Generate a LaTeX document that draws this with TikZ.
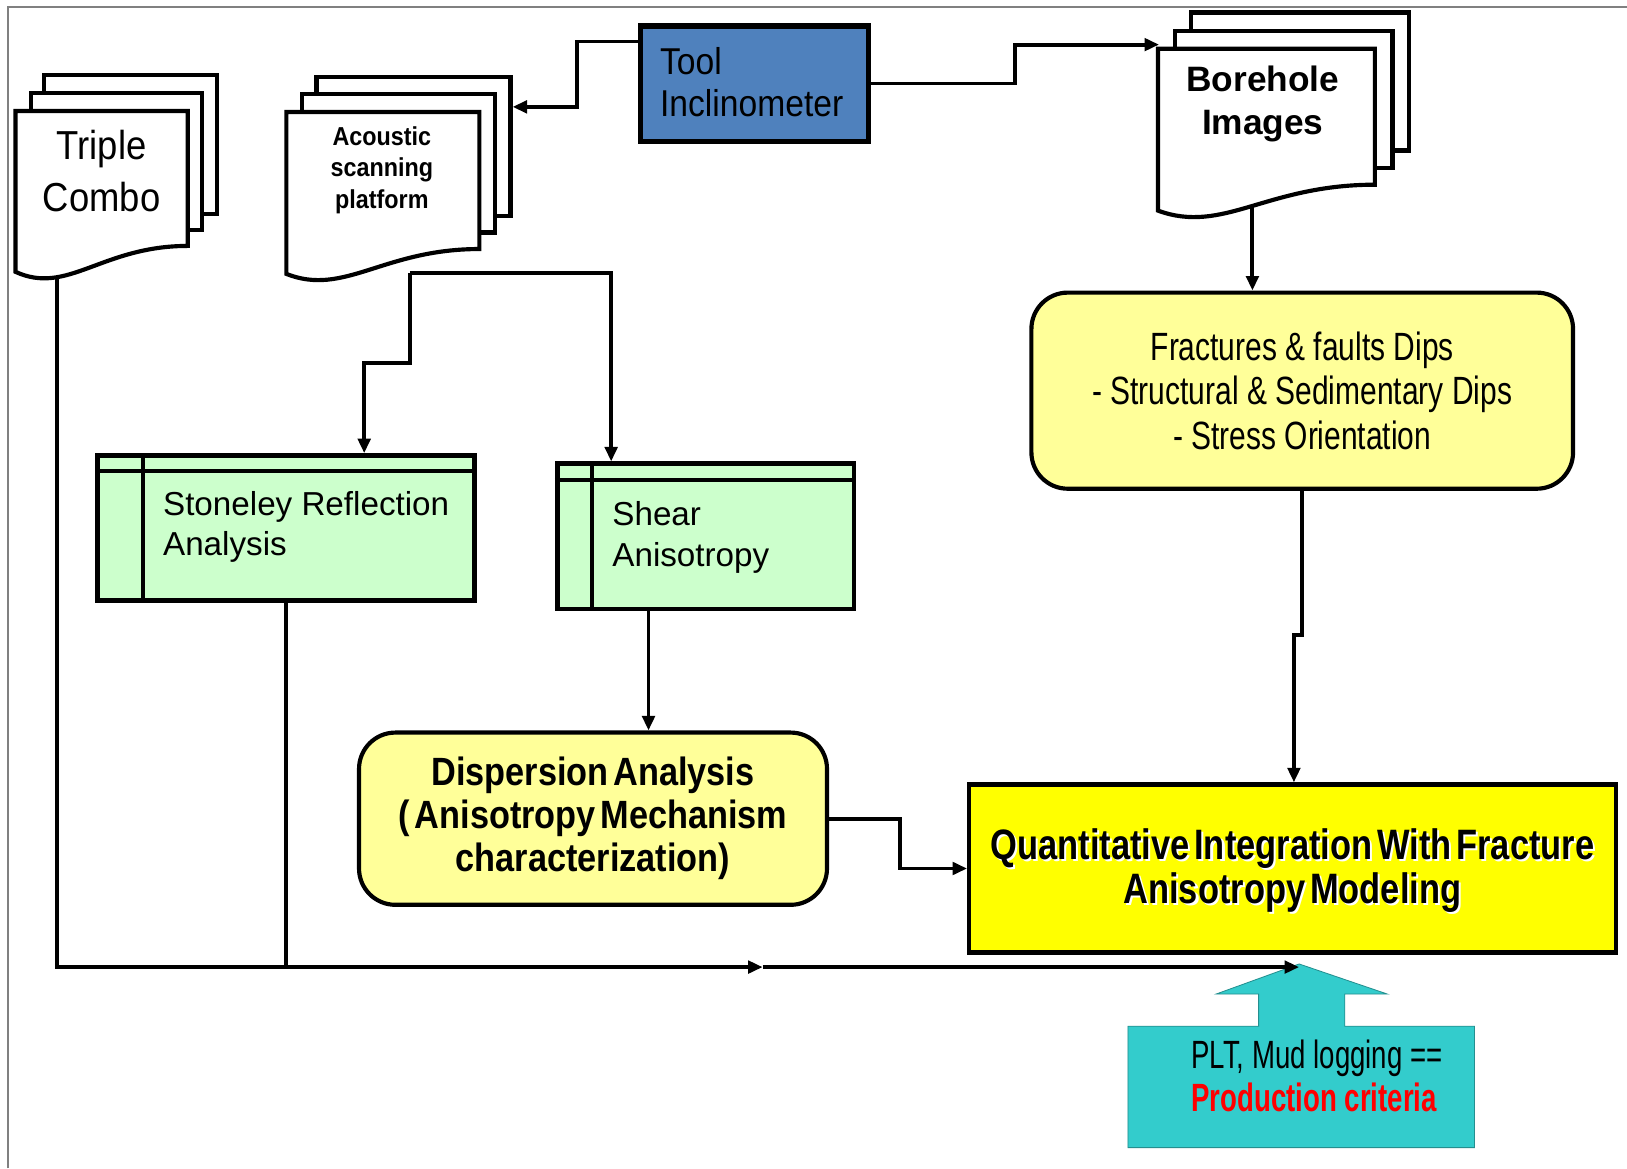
\documentclass[tikz,border=0pt]{standalone}
\usepackage{fontspec}
\setmainfont{Liberation Sans}
\newfontfamily\fontNinety[FakeStretch=0.9]{Liberation Sans}
\newfontfamily\fontEightSeven[FakeStretch=0.87,WordSpace=0.5]{Liberation Sans}
\newfontfamily\fontEighty[FakeStretch=0.81,WordSpace=0.5]{Liberation Sans}
\newfontfamily\fontSeventySix[FakeStretch=0.76]{Liberation Sans}
\newfontfamily\fontSeventy[FakeStretch=0.7]{Liberation Sans}
\usetikzlibrary{arrows.meta}
\definecolor{toolblue}{HTML}{4F81BD}
\definecolor{palegreen}{HTML}{CCFFCC}
\definecolor{paleyellow}{HTML}{FFFF99}
\definecolor{brightyellow}{HTML}{FFFF00}
\definecolor{tealfill}{HTML}{33CCCC}
\definecolor{framegray}{HTML}{808080}
\newcommand\fsz[2]{\fontsize{#1}{#2}\selectfont}
\tikzset{
  conn/.style={line width=3.8pt, -{Triangle[length=14pt,width=12pt]}},
  wire/.style={line width=3.8pt},
  docpage/.style={draw, line width=4pt, fill=white},
  txt/.style={inner sep=0pt, text=black},
  greenbox/.style={draw, line width=4.5pt, fill=palegreen, inner sep=0pt},
  roundbox/.style={draw, line width=4pt, fill=paleyellow, rounded corners=35pt, align=center, inner sep=0pt},
}
\begin{document}
\begin{tikzpicture}[x=1pt,y=-1pt,line join=miter]
\useasboundingbox (0,0) rectangle (1568,1126);
\fill[white] (0,0) rectangle (1568,1126);
\draw[framegray, line width=2pt] (8,1126) -- (8,7) -- (1568,7);

% cyan block arrow
\draw[fill=tealfill, draw=tealfill!70!black, line width=0.8pt]
  (1087,1106) -- (1087,989) -- (1213,989) -- (1213,958) -- (1172,958) -- (1252,929)
  -- (1337,958) -- (1296,958) -- (1296,989) -- (1421,989) -- (1421,1106) -- cycle;
\node[txt, anchor=west, align=left, font={\fontSeventy\fsz{38}{42}}] (plt) at (1148,1037)
  {PLT, Mud logging ==\\{\color{red}\bfseries Production criteria}};

% boxes
\node[draw, line width=5pt, fill=toolblue, minimum width=220pt, minimum height=111pt, inner sep=0pt] (tool) at (727,80.5) {};
\node[txt, anchor=west, align=left, font={\fontNinety\fsz{36}{41}}] (tooltext) at (636,79) {Tool\\Inclinometer};

\node[greenbox, minimum width=363pt, minimum height=140pt] (stoneley) at (275.5,509) {};
\draw[line width=4pt] ([yshift=-17pt]stoneley.north west) -- ([yshift=-17pt]stoneley.north east);
\draw[line width=4pt] ([xshift=46pt]stoneley.north west) -- ([xshift=46pt]stoneley.south west);
\node[txt, anchor=west, align=left, font={\fsz{32}{39}}] (stoneleytext) at (157,508) {Stoneley Reflection\\Analysis};

\node[greenbox, minimum width=286pt, minimum height=140pt] (shear) at (680,517) {};
\draw[line width=4pt] ([yshift=-18pt]shear.north west) -- ([yshift=-18pt]shear.north east);
\draw[line width=4pt] ([xshift=36pt]shear.north west) -- ([xshift=36pt]shear.south west);
\node[txt, anchor=west, align=left, font={\fsz{32}{40}}] (sheartext) at (590,518) {Shear\\Anisotropy};

\node[roundbox, minimum width=522pt, minimum height=189pt, font={\fontSeventySix\fsz{38}{43}}] (fract) at (1255,376.5)
  {Fractures \& faults Dips\\- Structural \& Sedimentary Dips\\- Stress Orientation};

\node[roundbox, minimum width=451pt, minimum height=166pt, font={\fontEightSeven\bfseries\fsz{38}{41.5}}] (disp) at (571.5,789)
  {Dispersion Analysis\\( Anisotropy Mechanism\\characterization)};

\node[draw, line width=4pt, fill=brightyellow, minimum width=623pt, minimum height=162pt, inner sep=0pt] (quant) at (1245.5,837) {};
\node[txt, text=white, align=center, font={\fontEighty\bfseries\fsz{41}{42}}] (quantglow) at (1247.5,841)
  {Quantitative Integration With Fracture\\Anisotropy Modeling};
\node[txt, align=center, font={\fontEighty\bfseries\fsz{41}{42}}] (quanttext) at (1245.5,839)
  {Quantitative Integration With Fracture\\Anisotropy Modeling};

% connectors that start under the documents
\coordinate (tcfoot) at (55,255);
\coordinate (bhfoot) at (1207,195);
\coordinate (busmid) at (735,932);
\coordinate (busend) at (1252,932);
\draw[wire, -{Triangle[length=14pt,width=12pt]}] (tcfoot) |- (busmid);
\draw[conn] (busmid) -- (busend);
\draw[wire] (stoneley.south) -- (stoneley.south |- busmid);
\draw[conn] (bhfoot) -- (fract.north -| bhfoot);

% documents
\draw[docpage] (42,72) rectangle (209,206);
\draw[docpage] (30,90) rectangle (195,222);
\draw[docpage] (15,262) -- (15,107) -- (181,107) -- (181,237) .. controls (98,237) and (65,285) .. (15,262) -- cycle;
\node[txt, align=center, font={\fontNinety\fsz{39}{50}}] (triple) at (98,165) {Triple\\Combo};

\draw[docpage] (305,74) rectangle (492,208);
\draw[docpage] (291,91) rectangle (477,224);
\draw[docpage] (276,264) -- (276,108) -- (462,108) -- (462,240) .. controls (369,240) and (332,286) .. (276,264) -- cycle;
\node[txt, align=center, font={\fontNinety\bfseries\fsz{25}{30}}] (acoustic) at (368,164) {Acoustic\\scanning\\platform};

\draw[docpage] (1148,12) rectangle (1358,145);
\draw[docpage] (1132,30) rectangle (1342,162);
\draw[docpage] (1116,203) -- (1116,47) -- (1325,47) -- (1325,178) .. controls (1220,178) and (1179,226) .. (1116,203) -- cycle;
\node[txt, align=center, font={\bfseries\fsz{34}{41}}] (borehole) at (1217,100) {Borehole\\Images};

% other connectors
\coordinate (aspfork) at (395,263);
\draw[conn] (tool.west |- 0,40) -- (556,40) -- (556,103) -- (494,103);
\draw[conn] (tool.east) -- (978,80.5) -- (978,43) -- (1117,43);
\draw[conn] (aspfork) -- (395,350) -- (351,350) -- (stoneley.north -| 351,0);
\draw[conn] (aspfork) -| (shear.north -| 589,0);
\draw[conn] (shear.south -| 625,0) -- (disp.north -| 625,0);
\draw[conn] (disp.east) -- ++(68,0) |- (quant.west);
\draw[conn] (fract.south) -- (1255,612) -- (1247,612) -- (quant.north -| 1247,0);
\end{tikzpicture}
\end{document}
